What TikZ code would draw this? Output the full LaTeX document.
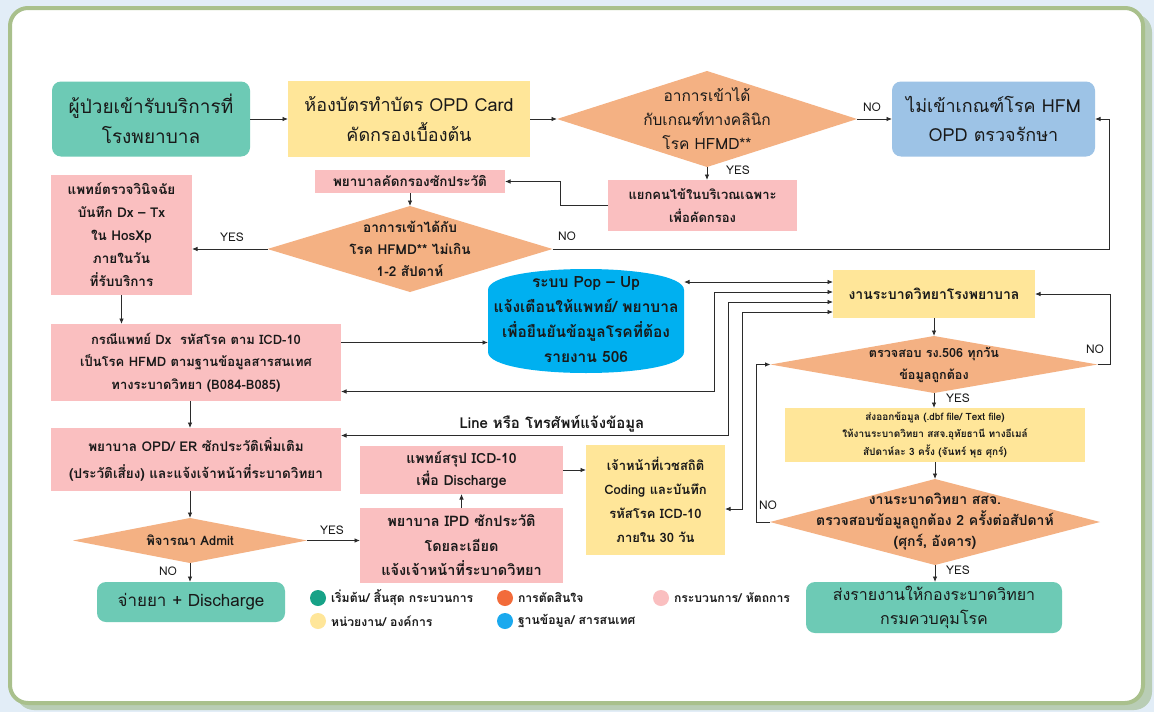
\documentclass[tikz,border=0pt]{standalone}
\usepackage{fontspec}
\newfontfamily\thaif[Script=Thai]{Loma}
\usetikzlibrary{shapes.geometric,arrows.meta,calc}
\definecolor{bgc}{HTML}{E2EDF7}
\definecolor{framec}{HTML}{A9C08C}
\definecolor{shadc}{HTML}{B9CDB5}
\definecolor{tealc}{HTML}{6DCAB5}
\definecolor{yelc}{HTML}{FFE699}
\definecolor{orc}{HTML}{F4B183}
\definecolor{bluec}{HTML}{9DC3E6}
\definecolor{pinkc}{HTML}{FABFC0}
\definecolor{cyanc}{HTML}{00B0F0}
\definecolor{lgreen}{HTML}{17A287}
\definecolor{lorange}{HTML}{F26B3A}
\definecolor{lblue}{HTML}{1BA9EE}
\definecolor{linec}{HTML}{2B2B2B}
\newcommand{\fs}[2]{\fontsize{#1}{#2}\selectfont}
\tikzset{
 every node/.style={inner sep=0pt, outer sep=0pt, text=black!90},
 box/.style={rectangle, align=center},
 pinkbox/.style={box, fill=pinkc},
 yelbox/.style={box, fill=yelc},
 tealbox/.style={box, fill=tealc, rounded corners=9pt},
 dia/.style={diamond, fill=orc},
 conn/.style={draw=linec, line width=0.8pt, -{Latex[length=5.5pt,width=4.5pt]}},
 dconn/.style={conn, {Latex[length=5.5pt,width=4.5pt]}-{Latex[length=5.5pt,width=4.5pt]}},
 lab/.style={font=\thaif\fs{12}{14}},
 legtext/.style={font=\thaif\bfseries\fs{12.2}{14}, anchor=west},
}
\begin{document}
\begin{tikzpicture}[x=1pt,y=-1pt]
\useasboundingbox (0,0) rectangle (1154,712);
\fill[bgc] (0,0) rectangle (1154,712);
\fill[shadc, rounded corners=18pt] (16,14) rectangle (1152,710);
\draw[framec, line width=4pt, fill=white, rounded corners=18pt] (10,8) rectangle (1143,703);

% nodes
\node[tealbox, minimum width=198pt, minimum height=75pt, font=\thaif\fs{19}{30}] (start) at (151,119) {ผู้ป่วยเข้ารับบริการที่\\โรงพยาบาล};
\node[yelbox, minimum width=242pt, minimum height=76pt, font=\thaif\fs{18}{30}] (opd) at (409,119) {ห้องบัตรทำบัตร OPD Card\\คัดกรองเบื้องต้น};
\node[dia, minimum width=300pt, minimum height=96pt] (d1) at (707,119) {};
\node[box, font=\thaif\fs{15.5}{24}] (d1t) at (d1) {อาการเข้าได้\\กับเกณฑ์ทางคลินิก\\โรค HFMD**};
\node[box, fill=bluec, rounded corners=9pt, minimum width=203pt, minimum height=75pt, font=\thaif\fs{18}{29}] (hfm) at (993.5,119) {ไม่เข้าเกณฑ์โรค HFM\\OPD ตรวจรักษา};
\node[pinkbox, minimum width=189pt, minimum height=51pt, font=\thaif\bfseries\fs{13}{23}] (sep) at (702.5,205.5) {แยกคนไข้ในบริเวณเฉพาะ\\เพื่อคัดกรอง};
\node[pinkbox, minimum width=190pt, minimum height=23pt, font=\thaif\bfseries\fs{13.5}{23}] (nscr) at (410,181.5) {พยาบาลคัดกรองซักประวัติ};
\node[dia, minimum width=285pt, minimum height=86pt] (d2) at (410,249) {};
\node[box, font=\thaif\bfseries\fs{13.6}{22}] (d2t) at (d2) {อาการเข้าได้กับ\\โรค HFMD** ไม่เกิน\\1-2 สัปดาห์};
\node[pinkbox, minimum width=141pt, minimum height=120pt, font=\thaif\bfseries\fs{13.5}{23}] (doc) at (121.5,235) {แพทย์ตรวจวินิจฉัย\\บันทึก Dx – Tx\\ใน HosXp\\ภายในวัน\\ที่รับบริการ};
\node[pinkbox, minimum width=290pt, minimum height=77pt, font=\thaif\bfseries\fs{13}{22.5}] (case) at (196,362.5) {กรณีแพทย์ Dx\ \ รหัสโรค ตาม ICD-10\\เป็นโรค HFMD ตามฐานข้อมูลสารสนเทศ\\ทางระบาดวิทยา (B084-B085)};
\fill[cyanc] (488,290) .. controls (488,262) and (684,262) .. (684,290) -- (684,352) .. controls (684,380) and (488,380) .. (488,352) -- cycle;
\node[box, minimum width=196pt, minimum height=104pt, font=\thaif\bfseries\fs{15.5}{25}] (pop) at (586,320) {ระบบ Pop – Up\\แจ้งเตือนให้แพทย์/ พยาบาล\\เพื่อยืนยันข้อมูลโรคที่ต้อง\\รายงาน 506};
\node[yelbox, minimum width=202pt, minimum height=48pt, font=\thaif\bfseries\fs{14}{20}] (epi) at (934,294) {งานระบาดวิทยาโรงพยาบาล};
\node[dia, minimum width=327pt, minimum height=57pt] (d3) at (934,364.5) {};
\node[box, font=\thaif\bfseries\fs{12.6}{22}] (d3t) at (d3) {ตรวจสอบ รง.506 ทุกวัน\\ข้อมูลถูกต้อง};
\node[yelbox, minimum width=300pt, minimum height=54pt, font=\thaif\bfseries\fs{10}{17.5}] (exp) at (935,435) {ส่งออกข้อมูล (.dbf file/ Text file)\\ให้งานระบาดวิทยา สสจ.อุทัยธานี ทางอีเมล์\\สัปดาห์ละ 3 ครั้ง (จันทร์ พุธ ศุกร์)};
\node[dia, minimum width=330pt, minimum height=86pt] (d4) at (935,522) {};
\node[box, font=\thaif\bfseries\fs{14}{21}] (d4t) at (d4) {งานระบาดวิทยา สสจ.\\ตรวจสอบข้อมูลถูกต้อง 2 ครั้งต่อสัปดาห์\\(ศุกร์, อังคาร)};
\node[tealbox, minimum width=256pt, minimum height=51pt, font=\thaif\fs{16}{24}] (rep) at (934,607.5) {ส่งรายงานให้กองระบาดวิทยา\\กรมควบคุมโรค};
\node[pinkbox, minimum width=290pt, minimum height=63pt, font=\thaif\bfseries\fs{13.5}{27}] (er) at (196,459.5) {พยาบาล OPD/ ER ซักประวัติเพิ่มเติม\\(ประวัติเสี่ยง) และแจ้งเจ้าหน้าที่ระบาดวิทยา};
\node[dia, minimum width=234pt, minimum height=45pt] (adm) at (190,540.5) {};
\node[box, font=\thaif\bfseries\fs{13}{20}] (admt) at (adm) {พิจารณา Admit};
\node[tealbox, minimum width=188pt, minimum height=40pt, font=\thaif\fs{17}{24}] (dis) at (191,602) {จ่ายยา + Discharge};
\node[pinkbox, minimum width=203pt, minimum height=48pt, font=\thaif\bfseries\fs{14}{22}] (icd) at (461.5,470) {แพทย์สรุป ICD-10\\เพื่อ Discharge};
\node[pinkbox, minimum width=203pt, minimum height=75pt, font=\thaif\bfseries\fs{14.5}{24.5}] (ipd) at (461.5,545.5) {พยาบาล IPD ซักประวัติ\\โดยละเอียด\\แจ้งเจ้าหน้าที่ระบาดวิทยา};
\node[yelbox, minimum width=139pt, minimum height=110pt, font=\thaif\bfseries\fs{13}{24}] (stats) at (655.5,500) {เจ้าหน้าที่เวชสถิติ\\Coding และบันทึก\\รหัสโรค ICD-10\\ภายใน 30 วัน};

% connectors
\draw[conn] (start) -- (opd);
\draw[conn] (opd) -- (d1);
\draw[conn] (d1) -- (hfm);
\draw[conn] (d1.south) -- (d1.south |- sep.north);
\draw[conn] (sep.west) -- ++(-48,0) |- (nscr.east);
\draw[conn] (nscr) -- (d2);
\draw[conn] (d2.west) -- (d2.west -| doc.east);
\draw[conn] (d2.east) -- ++(557,0) |- (hfm.east);
\draw[conn] (doc.south) -- (doc.south |- case.north);
\draw[conn] ([yshift=20pt]case.east) -- ([yshift=20pt]case.east -| pop.west);
\draw[dconn] ([yshift=12pt]epi.west) -- ([yshift=12pt]epi.west -| pop.east);
\draw[dconn] ([yshift=2pt]epi.west) -- ++(-119,0) |- ([yshift=-29pt]case.east);
\draw[dconn] ([yshift=-8pt]epi.west) -- ++(-105,0) |- ([yshift=24pt]er.east);
\draw[dconn] ([yshift=-18pt]epi.west) -- ++(-91,0) |- ([yshift=-9pt]stats.east);
\draw[conn] (epi) -- (d3);
\draw[conn] (d3.east) -- ++(13,0) |- (epi.east);
\draw[conn] (d3.south) -- (d3.south |- exp.north);
\draw[conn] (exp) -- (d4);
\draw[conn] (d4.west) -- ++(-14,0) |- (d3.west);
\draw[conn] (d4.south) -- (d4.south |- rep.north);
\draw[conn] (case.south -| adm.north) -- (er.north -| adm.north);
\draw[conn] (er.south -| adm.north) -- (adm.north);
\draw[conn] (adm.east) -- (adm.east -| ipd.west);
\draw[conn] (adm.south) -- (adm.south |- dis.north);
\draw[conn] (ipd) -- (icd);
\draw[conn] (icd.east) -- (icd.east -| stats.west);

% labels
\node[lab] (l1) at (872,107) {NO};
\node[lab] (l2) at (738,170) {YES};
\node[lab] (l3) at (232,237) {YES};
\node[lab] (l4) at (567,236) {NO};
\node[lab] (l5) at (1095,349) {NO};
\node[lab] (l6) at (958,398) {YES};
\node[lab] (l7) at (768,505) {NO};
\node[lab] (l8) at (958,570) {YES};
\node[lab] (l9) at (332,530) {YES};
\node[lab] (l10) at (168,571) {NO};
\node[font=\thaif\bfseries\fs{15}{18}] (linelab) at (552,424) {Line หรือ โทรศัพท์แจ้งข้อมูล};

% legend
\fill[lgreen] (318,598) circle (8);
\node[legtext] (lg1) at (331,598) {เริ่มต้น/ สิ้นสุด กระบวนการ};
\fill[yelc] (318,621) circle (8);
\node[legtext] (lg2) at (331,621) {หน่วยงาน/ องค์การ};
\fill[lorange] (505,598) circle (8);
\node[legtext] (lg3) at (518,598) {การตัดสินใจ};
\fill[lblue] (505,621) circle (8);
\node[legtext] (lg4) at (518,621) {ฐานข้อมูล/ สารสนเทศ};
\fill[pinkc] (661,598) circle (8);
\node[legtext] (lg5) at (674,598) {กระบวนการ/ หัตถการ};
\end{tikzpicture}
\end{document}
